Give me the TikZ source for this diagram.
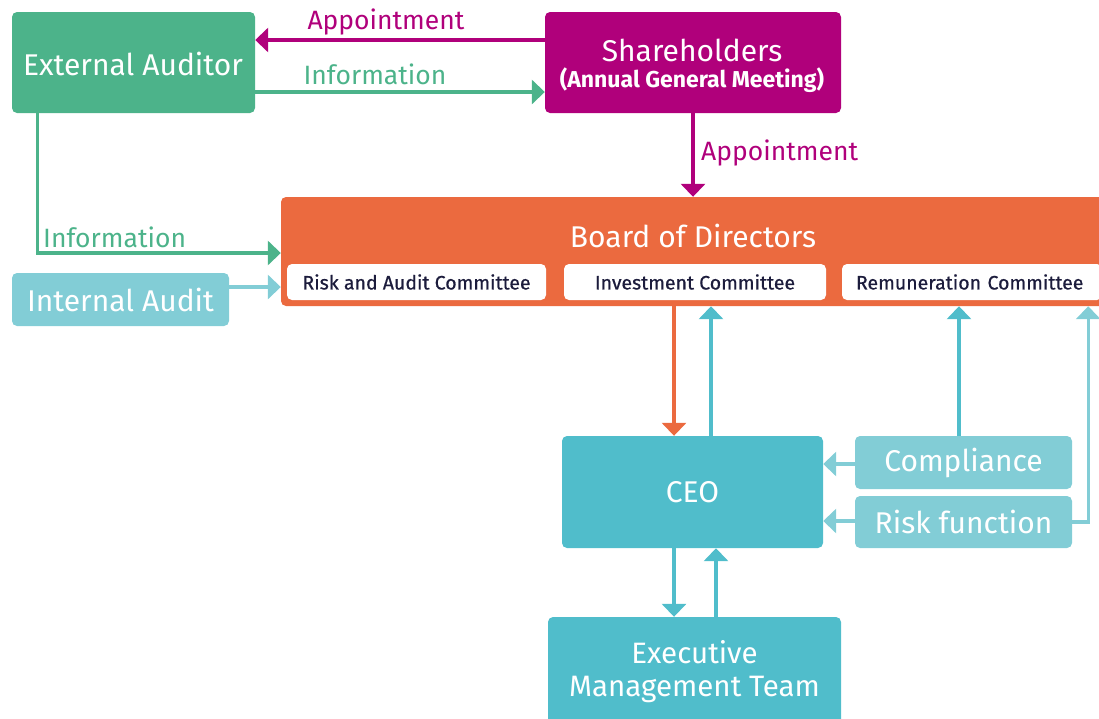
\documentclass[tikz,border=0pt]{standalone}
\usepackage{fontspec}
\setmainfont{Fira Sans}
\usetikzlibrary{arrows.meta,calc}
\definecolor{cgreen}{HTML}{4CB38A}
\definecolor{cmag}{HTML}{B0007B}
\definecolor{corange}{HTML}{EB6A3F}
\definecolor{cblue}{HTML}{50BDCB}
\definecolor{clight}{HTML}{82CDD6}
\definecolor{cdark}{HTML}{1C1C3C}
\tikzset{
  box/.style={rectangle, rounded corners=5pt, inner sep=0pt, text=white, align=center, font=\fontsize{30}{34}\selectfont},
  combox/.style={rectangle, rounded corners=5pt, inner sep=0pt, fill=white, text=cdark, font=\fontsize{19.5}{22}\selectfont\addfontfeature{FakeBold=0.6}},
  conn/.style={line width=3.2pt, -{Triangle[width=24pt,length=13pt]}},
  lbl/.style={inner sep=0pt, font=\fontsize{26.5}{30}\selectfont},
}
\begin{document}
\begin{tikzpicture}[x=1pt,y=-1pt]
\useasboundingbox (0,0) rectangle (1099,718);
\clip (0,0) rectangle (1099,718);
% boxes
\node[box, fill=cgreen, minimum width=243pt, minimum height=101pt] (ext) at (133.5,62.5) {};
\node[text=white, inner sep=0pt, font=\fontsize{30}{34}\selectfont] (extt) at (133,64) {External Auditor};
\node[box, fill=cmag, minimum width=296pt, minimum height=101pt] (sh) at (693,62.5) {};
\node[text=white, inner sep=0pt, font=\fontsize{30}{34}\selectfont] (sht) at (692,50) {Shareholders};
\node[text=white, inner sep=0pt, font=\fontsize{23}{26}\selectfont\bfseries] (sht2) at (692,80) {(Annual General Meeting)};
\node[rectangle, rounded corners=5pt, fill=corange, minimum width=840pt, minimum height=109pt, inner sep=0pt] (bod) at (701,251.5) {};
\node[text=white, inner sep=0pt, font=\fontsize{30}{34}\selectfont] (bodt) at (693,236) {Board of Directors};
\node[combox, minimum width=259pt, minimum height=36pt] (rac) at (416.5,282) {Risk and Audit Committee};
\node[combox, minimum width=262pt, minimum height=36pt] (inv) at (695,282) {Investment Committee};
\node[combox, minimum width=260pt, minimum height=36pt, text width=232pt] (rem) at (972,282) {Remuneration Committee};
\node[box, fill=clight, minimum width=217pt, minimum height=53pt] (ia) at (120.5,299.5) {Internal Audit};
\node[box, fill=cblue, minimum width=261pt, minimum height=112pt] (ceo) at (692.5,492) {CEO};
\node[box, fill=clight, minimum width=217pt, minimum height=53pt] (comp) at (963.5,462.5) {Compliance};
\node[box, fill=clight, minimum width=217pt, minimum height=52pt] (risk) at (963.5,522) {Risk function};
\node[box, fill=cblue, minimum width=293pt, minimum height=130pt] (emt) at (694.5,682) {};
\node[text=white, align=center, inner sep=0pt, font=\fontsize{29.5}{33}\selectfont] (emtt) at (694.5,672) {Executive\\Management Team};
% connectors
\draw[conn, cmag] (sh.west |- 0,40) -- (ext.east |- 0,40);
\node[lbl, text=cmag] (l1) at (386,22) {Appointment};
\draw[conn, cgreen] (ext.east |- 0,92) -- (sh.west |- 0,92);
\node[lbl, text=cgreen] (l2) at (375,74) {Information};
\draw[conn, cmag] (sh.south) -- (sh.south |- bod.north);
\node[lbl, text=cmag, anchor=west] (l3) at (701,153) {Appointment};
\coordinate (extb) at ($(ext.south west)+(26,0)$);
\draw[conn, cgreen] (extb) |- (bod.west |- 0,253);
\node[lbl, text=cgreen, anchor=west] (l4) at (43,237) {Information};
\draw[conn, clight] (ia.east |- 0,287) -- (bod.west |- 0,287);
\draw[conn, corange] (bod.south -| 674,0) -- (ceo.north -| 674,0);
\draw[conn, cblue] (ceo.north -| 711,0) -- (bod.south -| 711,0);
\draw[conn, clight] (comp.west |- 0,464) -- (ceo.east |- 0,464);
\draw[conn, clight] (risk.west |- 0,521) -- (ceo.east |- 0,521);
\draw[conn, cblue] (comp.north -| 959,0) -- (bod.south -| 959,0);
\draw[conn, clight] (risk.east) -- ++(16,0) coordinate (rk) -- (rk |- bod.south);
\draw[conn, cblue] (ceo.south -| 674,0) -- (emt.north -| 674,0);
\draw[conn, cblue] (emt.north -| 716,0) -- (ceo.south -| 716,0);
\end{tikzpicture}
\end{document}
